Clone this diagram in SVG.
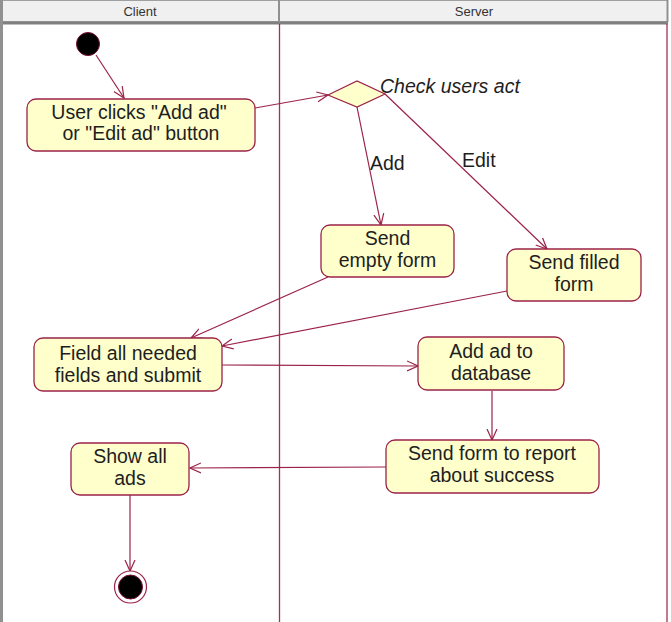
<svg xmlns="http://www.w3.org/2000/svg" width="671" height="622" viewBox="0 0 671 622">
<style>
.hdr{fill:#f0f0f0;stroke:#a0a0a0;stroke-width:1}
.htxt{font-family:"Liberation Sans",Arial,sans-serif;font-size:13px;fill:#333;text-anchor:middle}
.lane{stroke:#a3305a;stroke-width:1.3;fill:none}
.act{fill:#ffffcc;stroke:#9b2348;stroke-width:1.3}
.t{font-family:"Liberation Sans",Arial,sans-serif;font-size:19.5px;fill:#1e1e1e;text-anchor:middle}
.lbl{font-family:"Liberation Sans",Arial,sans-serif;font-size:19.5px;fill:#1e1e1e}
.c{stroke:#9b2348;stroke-width:1.2;fill:none;marker-end:url(#arr)}
</style>
<defs>
<marker id="arr" viewBox="0 0 12 12" refX="11" refY="6" markerWidth="12" markerHeight="12" markerUnits="userSpaceOnUse" orient="auto">
<path d="M0,1 L11,6 L0,11" fill="none" stroke="#9b2348" stroke-width="1.2"/>
</marker>
</defs>
<rect x="0" y="0" width="671" height="622" fill="#ffffff"/>
<g id="swimlanes">
<rect class="hdr" x="0.5" y="0.5" width="279" height="21"/>
<rect class="hdr" x="279.5" y="0.5" width="388" height="21"/>
<text class="htxt" x="140" y="15.5">Client</text>
<text class="htxt" x="474" y="15.5">Server</text>
<line x1="0" y1="23" x2="668" y2="23" stroke="#808080" stroke-width="3"/>
<line x1="1.5" y1="0" x2="1.5" y2="622" stroke="#909090" stroke-width="3"/>
<line x1="279" y1="0" x2="279" y2="22" stroke="#909090" stroke-width="2"/>
<line x1="667.5" y1="0" x2="667.5" y2="22" stroke="#909090" stroke-width="2"/>
<line class="lane" x1="279.5" y1="24" x2="279.5" y2="622"/>
<line class="lane" x1="667" y1="24" x2="667" y2="622"/>
</g>
<g id="connectors">
<line class="c" x1="96" y1="55" x2="124" y2="98"/>
<line class="c" x1="255" y1="108" x2="328" y2="95"/>
<line class="c" x1="357" y1="107" x2="381" y2="225"/>
<line class="c" x1="385" y1="94" x2="547" y2="249"/>
<line class="c" x1="328" y1="277" x2="191" y2="338"/>
<line class="c" x1="507" y1="291" x2="222" y2="346"/>
<line class="c" x1="222" y1="365" x2="418" y2="366"/>
<line class="c" x1="492" y1="391" x2="492" y2="440"/>
<line class="c" x1="386" y1="467" x2="190" y2="468"/>
<line class="c" x1="130" y1="495" x2="130" y2="571"/>
<text class="lbl" x="370" y="170">Add</text>
<text class="lbl" x="462" y="167">Edit</text>
</g>
<g id="start"><circle cx="88" cy="44" r="11.5" fill="#000" stroke="#7a1030" stroke-width="1"/></g>
<g id="user-clicks">
<rect class="act" x="27" y="99" width="228" height="52" rx="9"/>
<text class="t" x="139" y="119">User clicks "Add ad"</text>
<text class="t" x="141" y="140">or "Edit ad" button</text>
</g>
<g id="check-users-act">
<polygon points="328,95 357,81 385,94 357,107" fill="#ffffcc" stroke="#9b2348" stroke-width="1.2"/>
<text class="lbl" x="380" y="93" font-style="italic">Check users act</text>
</g>
<g id="send-empty">
<rect class="act" x="321" y="225" width="133" height="52" rx="9"/>
<text class="t" x="387.5" y="245">Send</text>
<text class="t" x="387.5" y="267">empty form</text>
</g>
<g id="send-filled">
<rect class="act" x="507" y="249" width="134" height="52" rx="9"/>
<text class="t" x="574" y="269">Send filled</text>
<text class="t" x="574" y="291">form</text>
</g>
<g id="field-all">
<rect class="act" x="34" y="338" width="188" height="53" rx="9"/>
<text class="t" x="128" y="360">Field all needed</text>
<text class="t" x="128" y="382">fields and submit</text>
</g>
<g id="add-ad">
<rect class="act" x="418" y="337" width="146" height="53" rx="9"/>
<text class="t" x="491" y="358">Add ad to</text>
<text class="t" x="491" y="380">database</text>
</g>
<g id="send-form-report">
<rect class="act" x="386" y="440" width="213" height="53" rx="9"/>
<text class="t" x="492" y="460">Send form to report</text>
<text class="t" x="492" y="482">about success</text>
</g>
<g id="show-all">
<rect class="act" x="71" y="443" width="118" height="52" rx="9"/>
<text class="t" x="130" y="463">Show all</text>
<text class="t" x="130" y="485">ads</text>
</g>
<g id="end">
<circle cx="130.5" cy="587" r="16" fill="#fff" stroke="#9b2348" stroke-width="1.2"/>
<circle cx="130.5" cy="587" r="12" fill="#000" stroke="#7a1030" stroke-width="1"/>
</g>
</svg>
